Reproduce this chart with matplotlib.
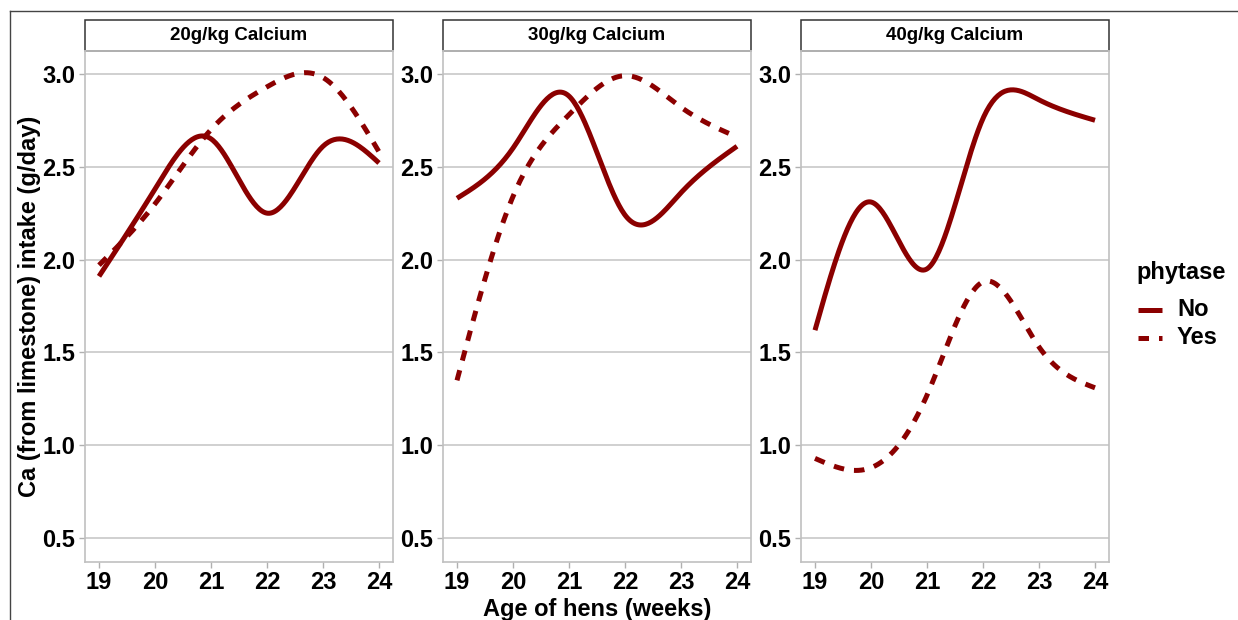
import matplotlib.pyplot as plt
import numpy as np
from matplotlib.lines import Line2D
from matplotlib.patches import Rectangle

plt.rcParams['font.family'] = ['Liberation Sans', 'DejaVu Sans']
plt.rcParams['font.weight'] = 'bold'

# data (Ca intake, g/day)
weeks = [19, 20, 21, 22, 23, 24]
panels = ['20g/kg Calcium', '30g/kg Calcium', '40g/kg Calcium']
no_20 = [1.91, 2.38, 2.65, 2.25, 2.61, 2.52]
yes_20 = [1.97, 2.30, 2.70, 2.93, 2.98, 2.58]
no_30 = [2.33, 2.60, 2.88, 2.24, 2.36, 2.61]
yes_30 = [1.35, 2.34, 2.78, 2.99, 2.82, 2.66]
no_40 = [1.62, 2.31, 1.95, 2.76, 2.86, 2.75]
yes_40 = [0.93, 0.88, 1.27, 1.88, 1.53, 1.31]
series_no = [no_20, no_30, no_40]
series_yes = [yes_20, yes_30, yes_40]

red = '#8B0000'
lw = 3.6
dash = (0, (2.1, 2.0))


def spline(x, y, n=200):
    # natural cubic spline, only used to draw smooth lines through the points
    x = np.asarray(x, float)
    y = np.asarray(y, float)
    k = len(x)
    h = np.diff(x)
    A = np.zeros((k, k))
    b = np.zeros(k)
    A[0, 0] = A[-1, -1] = 1
    for i in range(1, k - 1):
        A[i, i - 1] = h[i - 1]
        A[i, i] = 2 * (h[i - 1] + h[i])
        A[i, i + 1] = h[i]
        b[i] = 6 * ((y[i + 1] - y[i]) / h[i] - (y[i] - y[i - 1]) / h[i - 1])
    m = np.linalg.solve(A, b)
    xs = np.linspace(x[0], x[-1], n)
    idx = np.clip(np.searchsorted(x, xs) - 1, 0, k - 2)
    x0, x1 = x[idx], x[idx + 1]
    hh = x1 - x0
    t1 = x1 - xs
    t0 = xs - x0
    ys = (m[idx] * t1 ** 3 + m[idx + 1] * t0 ** 3) / (6 * hh) \
        + (y[idx] / hh - m[idx] * hh / 6) * t1 \
        + (y[idx + 1] / hh - m[idx + 1] * hh / 6) * t0
    return xs, ys


fig = plt.figure(figsize=(12.38, 6.2), dpi=100)
W, H = 1238, 620

# outer frame lines (top and left)
fig.add_artist(Line2D([10 / W, 1], [1 - 11 / H, 1 - 11 / H], color='#444444', lw=1))
fig.add_artist(Line2D([10 / W, 10 / W], [0, 1 - 11 / H], color='#444444', lw=1))

lefts = [85, 443, 801]
pw = 308
top_px, bot_px = 50.6, 561.5
ph = bot_px - top_px

for i, left in enumerate(lefts):
    ax = fig.add_axes([left / W, 1 - bot_px / H, pw / W, ph / H])
    xs, ys = spline(weeks, series_no[i])
    ax.plot(xs, ys, color=red, lw=lw, solid_capstyle='butt')
    xs, ys = spline(weeks, series_yes[i])
    ax.plot(xs, ys, color=red, lw=lw, linestyle=dash, dash_capstyle='butt')

    ax.set_xlim(18.75, 24.25)
    ax.set_ylim(0.375, 3.125)
    ax.set_xticks(weeks)
    ax.set_yticks([0.5, 1.0, 1.5, 2.0, 2.5, 3.0])
    ax.set_yticklabels(['0.5', '1.0', '1.5', '2.0', '2.5', '3.0'])
    ax.grid(axis='y', color='#C8C8C8', lw=1.2)
    ax.set_axisbelow(True)
    for s in ax.spines.values():
        s.set_color('#C0C0C0')
        s.set_linewidth(1.2)
    ax.tick_params(axis='both', colors='#B0B0B0', length=4, width=1,
                   labelcolor='black', labelsize=17, pad=3)

    # facet strip
    strip_h = (top_px - 19.8) / ph
    ax.add_patch(Rectangle((0, 1), 1, strip_h, transform=ax.transAxes,
                           facecolor='white', edgecolor='#333333', lw=1.1, clip_on=False))
    ax.text(0.5, 1 + strip_h / 2, panels[i], transform=ax.transAxes,
            ha='center', va='center', fontsize=13.5, fontweight='bold')

    if i == 0:
        ax.set_ylabel('Ca (from limestone) intake (g/day)', fontsize=17, fontweight='bold')
        ax.yaxis.set_label_coords((41 - left) / pw, 0.5)
    if i == 1:
        ax.set_xlabel('Age of hens (weeks)', fontsize=17, fontweight='bold')
        ax.xaxis.set_label_coords(0.5, -(598 - bot_px) / ph)

# legend drawn by hand
fig.text(1136 / W, 1 - 273 / H, 'phytase', ha='left', va='center', fontsize=17, fontweight='bold')
for lab, ls, ypx in [('No', '-', 310), ('Yes', dash, 338)]:
    fig.add_artist(Line2D([1138 / W, 1162 / W], [1 - ypx / H, 1 - ypx / H], color=red,
                          lw=lw, linestyle=ls, solid_capstyle='butt', dash_capstyle='butt'))
    fig.text(1177 / W, 1 - ypx / H, lab, ha='left', va='center', fontsize=17, fontweight='bold')

fig.savefig('out.png', dpi=100)
